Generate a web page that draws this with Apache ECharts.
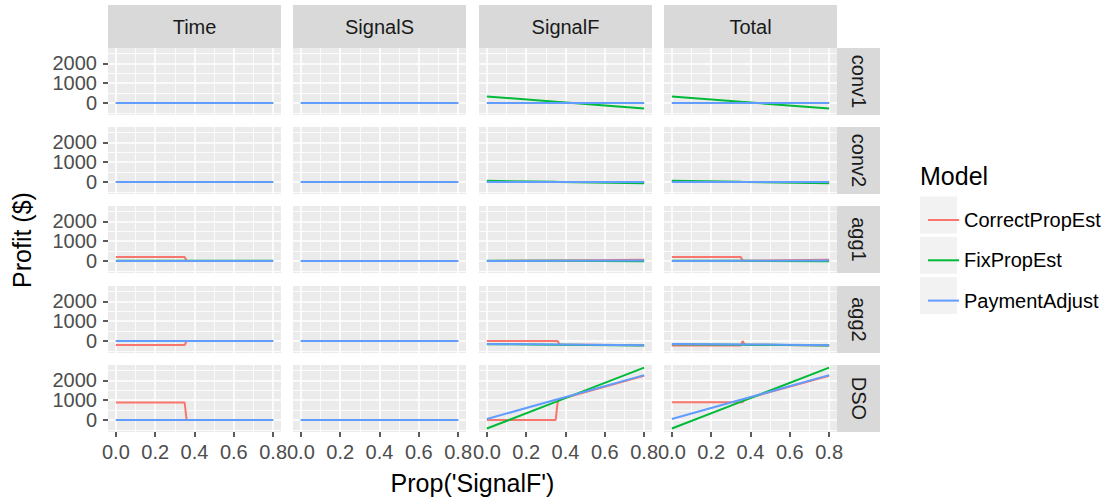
<!DOCTYPE html>
<html><head><meta charset="utf-8">
<script src="https://cdn.jsdelivr.net/npm/echarts@6/dist/echarts.min.js"></script>
<style>html,body{margin:0;padding:0;background:#fff}#c{width:1119px;height:501px}</style>
</head><body><div id="c"></div>
<script>
// ---------- data ----------
const rowNames = ['conv1', 'conv2', 'agg1', 'agg2', 'DSO'];
const colNames = ['Time', 'SignalS', 'SignalF', 'Total'];
const modelNames = ['CorrectPropEst', 'FixPropEst', 'PaymentAdjust'];
const xValues = [0, 0.35, 0.36, 0.37, 0.8];
const xTicks = [0, 0.2, 0.4, 0.6, 0.8];
const xMinorTicks = [0.1, 0.3, 0.5, 0.7];
const yTicks = [0, 1000, 2000];
const yMinorTicks = [-500, 500, 1500, 2500];
const Z = [0, 0, 0, 0, 0];

// [row][col] -> values at xValues
const correctPropEst = [
  [Z, Z, Z, Z],
  [Z, Z, Z, Z],
  [[200, 200, 0, 0, 0], Z, [0, 25, 25, 27, 70], [200, 200, 10, 12, 70]],
  [[-200, -200, 0, 0, 0], Z, [0, 0, 0, -175, -215], [-230, -230, 0, -180, -220]],
  [[880, 880, 0, 0, 0], Z, [0, 0, 900, 1050, 2240], [900, 900, 900, 1060, 2240]]
];
const fixPropEst = [
  [Z, Z, [330, 63, 55, 48, -280], [330, 63, 55, 48, -280]],
  [Z, Z, [60, 8, 5, 5, -60], [60, 8, 5, 5, -60]],
  [[20, 20, 20, 20, 20], Z, [20, 8, 8, 8, -15], [20, 8, 8, 8, -15]],
  [Z, Z, [-160, -185, -186, -187, -220], [-160, -185, -186, -187, -220]],
  [Z, Z, [-430, 915, 954, 992, 2645], [-430, 915, 954, 992, 2645]]
];
const paymentAdjust = [
  [Z, Z, Z, Z],
  [Z, Z, Z, Z],
  [Z, Z, [0, 10, 10, 10, 30], [0, 10, 10, 10, 30]],
  [Z, Z, [-150, -170, -171, -171, -215], [-150, -170, -171, -171, -215]],
  [Z, Z, [50, 1021, 1049, 1077, 2270], [50, 1021, 1049, 1077, 2270]]
];
const modelColors = ['#F8766D', '#00BA38', '#619CFF'];

// ---------- layout ----------
const FONT = '"Liberation Sans", Arial, Helvetica, sans-serif';
const colLeft = [108, 293, 479, 664];
const panelW = 173;
const rowTop = [48, 127, 206, 286, 365];
const panelH = 67;
const xMin = -0.04, xMax = 0.84;
const yMin = -605, yMax = 2780;

const modelData = [correctPropEst, fixPropEst, paymentAdjust];
const grids = [], xAxes = [], yAxes = [], series = [], graphics = [];

rowNames.forEach((rn, r) => {
  colNames.forEach((cn, c) => {
    const idx = r * colNames.length + c;
    grids.push({
      left: colLeft[c], top: rowTop[r], width: panelW, height: panelH,
      show: true, backgroundColor: '#EBEBEB', borderWidth: 0
    });
    xAxes.push({
      type: 'value', gridIndex: idx, min: xMin, max: xMax,
      axisLine: { show: false, onZero: false },
      splitLine: { show: false },
      axisTick: { show: r === rowNames.length - 1, customValues: xTicks, length: 5, lineStyle: { color: '#333333', width: 1.6 } },
      axisLabel: { show: r === rowNames.length - 1, customValues: xTicks, formatter: v => Number(v).toFixed(1),
        showMinLabel: true, showMaxLabel: true, hideOverlap: false,
        fontSize: 20, color: '#4D4D4D', margin: 10, fontFamily: FONT }
    });
    const yIdx = yAxes.length;
    yAxes.push({
      type: 'value', gridIndex: idx, min: yMin, max: yMax, position: 'left',
      axisLine: { show: false, onZero: false },
      splitLine: { show: false },
      axisTick: { show: false },
      axisLabel: { show: false }
    });
    if (c === 0) {
      // one label axis per tick value so that no label is dropped as overlapping
      yTicks.forEach(tv => {
        yAxes.push({
          type: 'value', gridIndex: idx, min: yMin, max: yMax, position: 'left', offset: 0,
          axisLine: { show: false, onZero: false },
          splitLine: { show: false },
          axisTick: { show: true, customValues: [tv], length: 5, lineStyle: { color: '#333333', width: 1.6 } },
          axisLabel: { show: true, customValues: [tv], formatter: v => String(v),
            showMinLabel: true, showMaxLabel: true, hideOverlap: false,
            fontSize: 20, color: '#4D4D4D', margin: 11, fontFamily: FONT }
        });
      });
    }
    const major = { color: '#FFFFFF', width: 1.6, type: 'solid' };
    const minor = { color: '#FFFFFF', width: 0.8, type: 'solid' };
    series.push({
      type: 'line', xAxisIndex: idx, yAxisIndex: yIdx, data: [], silent: true, z: 1,
      animation: false,
      markLine: {
        silent: true, animation: false, symbol: ['none', 'none'], label: { show: false },
        emphasis: { disabled: true },
        data: [].concat(
          yMinorTicks.map(v => ({ yAxis: v, lineStyle: minor })),
          xMinorTicks.map(v => ({ xAxis: v, lineStyle: minor })),
          yTicks.map(v => ({ yAxis: v, lineStyle: major })),
          xTicks.map(v => ({ xAxis: v, lineStyle: major }))
        )
      }
    });
    modelNames.forEach((mn, m) => {
      series.push({
        type: 'line', name: mn, xAxisIndex: idx, yAxisIndex: yIdx,
        data: xValues.map((x, i) => [x, modelData[m][r][c][i]]),
        symbol: 'none', showSymbol: false, silent: true, animation: false,
        lineStyle: { width: 2, color: modelColors[m] },
        itemStyle: { color: modelColors[m] },
        z: 10 + m
      });
    });
  });
});

// strips
colNames.forEach((cn, c) => {
  graphics.push({ type: 'rect', shape: { x: colLeft[c], y: 5, width: panelW, height: 43 }, style: { fill: '#D9D9D9' }, silent: true });
  graphics.push({ type: 'text', x: colLeft[c] + panelW / 2, y: 27, silent: true,
    style: { text: cn, font: '20px ' + FONT, fill: '#1A1A1A', align: 'center', verticalAlign: 'middle' } });
});
rowNames.forEach((rn, r) => {
  graphics.push({ type: 'rect', shape: { x: 837, y: rowTop[r], width: 43, height: panelH }, style: { fill: '#D9D9D9' }, silent: true });
  graphics.push({ type: 'text', x: 858.5, y: rowTop[r] + panelH / 2, rotation: -Math.PI / 2, silent: true,
    style: { text: rn, font: '20px ' + FONT, fill: '#1A1A1A', align: 'center', verticalAlign: 'middle' } });
});
// axis titles
graphics.push({ type: 'text', x: 22, y: 240, rotation: Math.PI / 2, silent: true,
  style: { text: 'Profit ($)', font: '25px ' + FONT, fill: '#000000', align: 'center', verticalAlign: 'middle' } });
graphics.push({ type: 'text', x: 472.5, y: 483, silent: true,
  style: { text: "Prop('SignalF')", font: '25px ' + FONT, fill: '#000000', align: 'center', verticalAlign: 'middle' } });
// legend title and key backgrounds
graphics.push({ type: 'text', x: 920, y: 176, silent: true,
  style: { text: 'Model', font: '25px ' + FONT, fill: '#000000', align: 'left', verticalAlign: 'middle' } });
[196.5, 236.8, 277].forEach(y => {
  graphics.push({ type: 'rect', shape: { x: 920, y: y, width: 37, height: 37 }, style: { fill: '#F2F2F2' }, silent: true });
});

const chart = echarts.init(document.getElementById('c'), null, { renderer: 'svg' });
chart.setOption({
  animation: false,
  backgroundColor: '#FFFFFF',
  textStyle: { fontFamily: FONT },
  grid: grids, xAxis: xAxes, yAxis: yAxes, series: series,
  legend: {
    data: modelNames, orient: 'vertical', left: 923, top: 205,
    icon: 'rect', itemWidth: 31, itemHeight: 2, itemGap: 20.3, selectedMode: false,
    textStyle: { fontSize: 20, color: '#000000', lineHeight: 20, fontFamily: FONT, padding: [0, 0, 0, 0] }
  },
  graphic: graphics
});
</script></body></html>
